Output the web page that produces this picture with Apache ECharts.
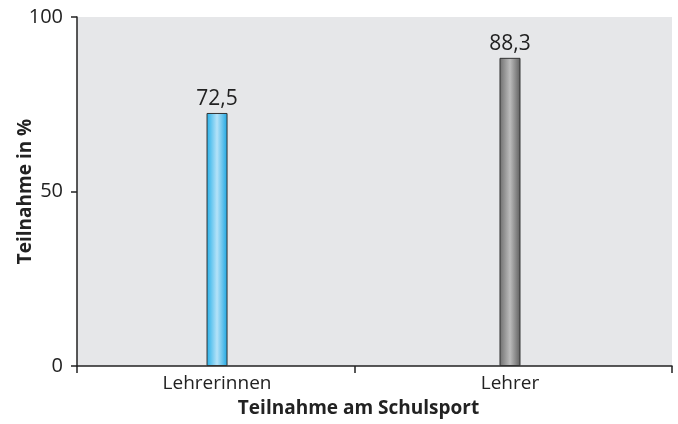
<!DOCTYPE html>
<html>
<head>
<meta charset="utf-8">
<script src="https://cdn.jsdelivr.net/npm/echarts@6/dist/echarts.min.js"></script>
<style>
  html, body { margin: 0; padding: 0; background: #fff; }
  #main { width: 678px; height: 424px; }
</style>
</head>
<body>
<div id="main"></div>
<script>
var categories = ['Lehrerinnen', 'Lehrer'];
var values = [72.5, 88.3];
var yTicks = [0, 50, 100];
// category band edges on the x axis (the bands in the original are unequal)
var xEdges = [-0.478, 0.471, 1.553];

var font = '"Open Sans", sans-serif';

function grad(edge, mid, edge2) {
    return new echarts.graphic.LinearGradient(0, 0, 1, 0, [
        { offset: 0, color: edge },
        { offset: 0.5, color: mid },
        { offset: 1, color: edge2 }
    ]);
}
var barColors = [
    grad('#22afe8', '#b4e2f8', '#1ca6e2'),
    grad('#6e6e6e', '#bcbcbc', '#5e5e5e')
];

var myChart = echarts.init(document.getElementById('main'));
myChart.setOption({
    backgroundColor: '#fff',
    animation: false,
    grid: {
        left: 77, right: 6, top: 17, bottom: 58,
        outerBoundsMode: 'none', containLabel: false,
        backgroundColor: '#e6e7e9', show: true, borderWidth: 0
    },
    xAxis: {
        type: 'value',
        min: xEdges[0],
        max: xEdges[xEdges.length - 1],
        name: 'Teilnahme am Schulsport',
        nameLocation: 'middle',
        nameGap: 33,
        nameMoveOverlap: false,
        nameTextStyle: { fontFamily: font, fontWeight: 'bold', fontSize: 19, color: '#222', padding: [0, 32, 0, 0] },
        splitLine: { show: false },
        axisLine: { lineStyle: { color: '#222', width: 1.5 } },
        axisTick: { show: true, length: 7, customValues: xEdges, lineStyle: { color: '#222', width: 1.5 } },
        axisLabel: {
            fontFamily: font, fontSize: 19, color: '#222', margin: 8,
            customValues: [0, 1],
            formatter: function (v) { return categories[Math.round(v)] || ''; }
        }
    },
    yAxis: {
        type: 'value',
        min: 0,
        max: 100,
        interval: 50,
        name: 'Teilnahme in %',
        nameLocation: 'middle',
        nameGap: 42,
        nameMoveOverlap: false,
        nameTextStyle: { fontFamily: font, fontWeight: 'bold', fontSize: 19, color: '#222' },
        axisLine: { show: true, onZero: false, lineStyle: { color: '#222', width: 1.5 } },
        axisTick: { show: true, length: 6, lineStyle: { color: '#222', width: 1.5 } },
        splitLine: { show: false },
        axisLabel: {
            fontFamily: font, fontSize: 20, color: '#222', margin: 14,
            formatter: function (v) { return yTicks.indexOf(v) >= 0 ? String(v) : ''; }
        }
    },
    series: [{
        type: 'bar',
        barWidth: 21,
        data: values.map(function (v, i) {
            return { value: [i, v], itemStyle: { color: barColors[i] } };
        }),
        itemStyle: { borderColor: '#333', borderWidth: 1 },
        label: {
            show: true,
            position: 'top',
            distance: 3,
            fontFamily: font,
            fontSize: 21,
            color: '#222',
            formatter: function (p) { return p.value[1].toFixed(1).replace('.', ','); }
        }
    }]
});
</script>
</body>
</html>
